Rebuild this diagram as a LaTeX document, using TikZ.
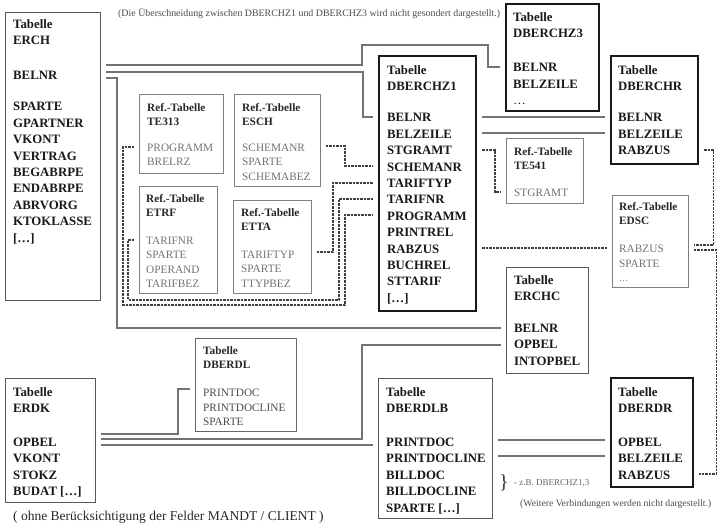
\documentclass[tikz,border=0pt]{standalone}
\usepackage{fontspec}
\setmainfont{Liberation Serif}
\begin{document}
\begin{tikzpicture}[x=1pt, y=-1pt,
  tab/.style={draw=black!65, line width=1pt, anchor=north west, inner sep=0pt},
  bigtab/.style={draw=black!90, line width=2.2pt, anchor=north west, inner sep=0pt},
  reftab/.style={draw=black!50, line width=0.8pt, anchor=north west, inner sep=0pt},
  tabtext/.style={anchor=north west, inner sep=0pt, align=left, text=black!90,
    font=\fontsize{12.8}{16.4}\selectfont\bfseries},
  reftext/.style={anchor=north west, inner sep=0pt, align=left, text=black!55,
    font=\fontsize{11.3}{14.5}\selectfont},
  link/.style={draw=black!55, line width=1.1pt, shorten <=5pt, shorten >=5pt},
  reflink/.style={link, draw=black!75, line width=1.2pt, dash pattern=on 2.5pt off 1pt},
  note/.style={inner sep=0pt, anchor=west, text=black!70}
]

  % Fix the size of the picture
  \useasboundingbox (0,0) rectangle (718,526);

  % Title of a reference table
  \def\rt#1{\textcolor{black!85}{\textbf{#1}}}

  % Table ERCH
  \node[tab, minimum width=95, minimum height=288] (erch) at (5,12) {};
  \node[tabtext] (erch-txt) at (13,19.5) {Tabelle\\ERCH\\[18.6pt]BELNR\\[14.6pt]SPARTE\\GPARTNER\\VKONT\\VERTRAG\\BEGABRPE\\ENDABRPE\\ABRVORG\\KTOKLASSE\\{[\dots]}};

  % Table DBERCHZ3
  \node[bigtab, minimum width=93, minimum height=107] (z3) at (505,3) {};
  \node[tabtext] (z3-txt) at (513,12.5) {Tabelle\\DBERCHZ3\\[17.6pt]BELNR\\BELZEILE\\{\mdseries\dots}};

  % Table DBERCHZ1
  \node[bigtab, minimum width=97, minimum height=255] (z1) at (378,55) {};
  \node[tabtext] (z1-txt) at (387,65.5) {Tabelle\\DBERCHZ1\\[14.6pt]BELNR\\BELZEILE\\STGRAMT\\SCHEMANR\\TARIFTYP\\TARIFNR\\PROGRAMM\\PRINTREL\\RABZUS\\BUCHREL\\STTARIF\\{[\dots]}};

  % Table DBERCHR
  \node[bigtab, minimum width=87, minimum height=108] (zr) at (610,55) {};
  \node[tabtext] (zr-txt) at (618,65.5) {Tabelle\\DBERCHR\\[14.6pt]BELNR\\BELZEILE\\RABZUS};

  % Reference tables TE541 and EDSC
  \node[reftab, minimum width=77, minimum height=65] (te541) at (506,138) {};
  \node[reftext] (te541-txt) at (514,147) {\rt{Ref.-Tabelle}\\\rt{TE541}\\[12.5pt]STGRAMT};
  \node[reftab, minimum width=76, minimum height=92] (edsc) at (612,195) {};
  \node[reftext] (edsc-txt) at (619,202) {\rt{Ref.-Tabelle}\\\rt{EDSC}\\[13.5pt]RABZUS\\SPARTE\\{\small\dots}};

  % Table ERCHC
  \node[tab, minimum width=82, minimum height=106] (erchc) at (506,267) {};
  \node[tabtext] (erchc-txt) at (514,275.5) {Tabelle\\ERCHC\\[15.2pt]BELNR\\OPBEL\\INTOPBEL};

  % Reference tables TE313, ESCH, ETRF and ETTA
  \node[reftab, minimum width=84, minimum height=79] (te313) at (139,94) {};
  \node[reftext] (te313-txt) at (147,103) {\rt{Ref.-Tabelle}\\\rt{TE313}\\[11pt]PROGRAMM\\BRELRZ};
  \node[reftab, minimum width=86, minimum height=92] (esch) at (234,94) {};
  \node[reftext] (esch-txt) at (242,103) {\rt{Ref.-Tabelle}\\\rt{ESCH}\\[11pt]SCHEMANR\\SPARTE\\SCHEMABEZ};
  \node[reftab, minimum width=78, minimum height=107] (etrf) at (139,186) {};
  \node[reftext] (etrf-txt) at (146,194) {\rt{Ref.-Tabelle}\\\rt{ETRF}\\[13pt]TARIFNR\\SPARTE\\OPERAND\\TARIFBEZ};
  \node[reftab, minimum width=78, minimum height=93] (etta) at (233,200) {};
  \node[reftext] (etta-txt) at (241,208) {\rt{Ref.-Tabelle}\\\rt{ETTA}\\[13pt]TARIFTYP\\SPARTE\\TTYPBEZ};

  % Table DBERDL
  \node[reftab, draw=black!60, minimum width=101, minimum height=93] (dberdl) at (195,338) {};
  \node[reftext, text=black!70] (dberdl-txt) at (203,346) {\rt{Tabelle}\\\rt{DBERDL}\\[13.5pt]PRINTDOC\\PRINTDOCLINE\\SPARTE};

  % Tables ERDK, DBERDLB and DBERDR
  \node[tab, minimum width=90, minimum height=124] (erdk) at (5,378) {};
  \node[tabtext] (erdk-txt) at (13,387.5) {Tabelle\\ERDK\\[17.2pt]OPBEL\\VKONT\\STOKZ\\BUDAT [\dots]};
  \node[tab, minimum width=114, minimum height=140] (dberdlb) at (378,378) {};
  \node[tabtext] (dberdlb-txt) at (386,387.5) {Tabelle\\DBERDLB\\[17.2pt]PRINTDOC\\PRINTDOCLINE\\BILLDOC\\BILLDOCLINE\\SPARTE [\dots]};
  \node[bigtab, minimum width=82, minimum height=109] (dberdr) at (610,377) {};
  \node[tabtext] (dberdr-txt) at (618,387.5) {Tabelle\\DBERDR\\[17.2pt]OPBEL\\BELZEILE\\RABZUS};

  % Links from ERCH
  \draw[link] (erch.east |- 0,65) -| (362,45) -| (488,67) -- (z3.west |- 0,67);
  \draw[link] (erch.east |- 0,72) -| (363,117) -- (z1.west |- 0,117);
  \draw[link] (erch.east |- 0,78) -| (117,328) -- (erchc.west |- 0,328);

  % Links from DBERCHZ1 to DBERCHR
  \draw[link] (z1.east |- 0,117) -- (zr.west |- 0,117);
  \draw[link] (z1.east |- 0,133) -- (zr.west |- 0,133);

  % Links to the reference tables
  \draw[reflink] (z1.east |- 0,150) -| (495,192) -- (te541.west |- 0,192);
  \draw[reflink] (esch.east |- 0,146) -| (345,166) -- (z1.west |- 0,166);
  \draw[reflink] (etta.east |- 0,252) -| (333,183) -- (z1.west |- 0,183);
  \draw[reflink] (etrf.west |- 0,240) -| (128,300) -| (339,199) -- (z1.west |- 0,199);
  \draw[reflink] (te313.west |- 0,147) -| (123,305) -| (345,215) -- (z1.west |- 0,215);
  \draw[reflink] (z1.east |- 0,248) -- (edsc.west |- 0,248);
  \draw[reflink] (zr.east |- 0,150) -| (713.5,245) -- (edsc.east |- 0,245);
  \draw[reflink] (edsc.east |- 0,250) -| (716.5,474) -- (dberdr.east |- 0,474);

  % Links from ERDK
  \draw[link] (erdk.east |- 0,434) -| (178,389) -- (dberdl.west |- 0,389);
  \draw[link] (erdk.east |- 0,439) -| (362,345) -- (erchc.west |- 0,345);
  \draw[link] (erdk.east |- 0,445) -- (dberdlb.west |- 0,445);

  % Links from DBERDLB to DBERDR
  \draw[link] (dberdlb.east |- 0,440) -- (dberdr.west |- 0,440);
  \draw[link] (dberdlb.east |- 0,456) -- (dberdr.west |- 0,456);

  % Brace next to BILLDOC and BILLDOCLINE
  \node[note, text=black!80, font=\fontsize{20}{20}\selectfont] (brace) at (499,483) {\}};
  \node[note, text=black!60, font=\fontsize{9}{10}\selectfont] (brace-txt) at (514,483) {- z.B. DBERCHZ1,3};

  % Notes
  \node[note, font=\fontsize{9.9}{11}\selectfont] (topnote) at (118,14) {(Die Überschneidung zwischen DBERCHZ1 und DBERCHZ3 wird nicht gesondert dargestellt.)};
  \node[note, font=\fontsize{9.7}{11}\selectfont] (rightnote) at (520,504) {(Weitere Verbindungen werden nicht dargestellt.)};
  \node[note, text=black!85, font=\fontsize{13.5}{15}\selectfont] (bottomnote) at (13,517) {( ohne Berücksichtigung der Felder MANDT / CLIENT )};

\end{tikzpicture}
\end{document}
